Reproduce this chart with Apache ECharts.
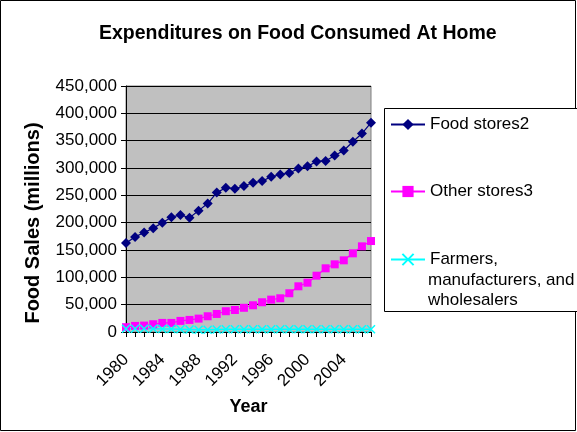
<!DOCTYPE html>
<html>
<head>
<meta charset="utf-8">
<script src="https://cdn.jsdelivr.net/npm/echarts@6/dist/echarts.min.js"></script>
<style>html,body{margin:0;padding:0;background:#fff}#c{width:577px;height:432px}</style>
</head>
<body>
<div id="c"></div>
<script>
const years = ['1980','1981','1982','1983','1984','1985','1986','1987','1988','1989','1990','1991','1992','1993','1994','1995','1996','1997','1998','1999','2000','2001','2002','2003','2004','2005','2006','2007'];
const foodStores = [163000,174000,182000,190000,200000,210000,214000,209000,222000,235000,255000,264000,262000,267000,273000,276000,284000,288000,291000,299000,303000,312000,313000,323000,332000,348000,363000,383000];
const otherStores = [8800,11100,11700,14200,16600,16600,20300,22100,24500,28800,33000,38000,40200,44300,48900,54400,59200,61700,70900,83600,90200,103000,116500,123800,131100,143900,156700,166400];
const farmers = [6000,6000,6000,6000,5500,5500,5000,4500,4000,4000,4500,5000,5000,5000,5000,5000,5000,5000,5000,5000,5000,5000,5000,5000,5000,5000,5000,5000];
const yTicks = [0,50000,100000,150000,200000,250000,300000,350000,400000,450000];
const seriesNames = ['Food stores2','Other stores3','Farmers, manufacturers, and wholesalers'];

const FONT = "'Liberation Sans', Arial, sans-serif";
const chart = echarts.init(document.getElementById('c'), null, {renderer:'canvas'});
const xPath = 'path://M0,0L10,10M10,0L0,10';
const legText = {fontFamily:FONT, fontSize:17, color:'#000'};
chart.setOption({
  animation: false,
  backgroundColor: '#fff',
  title: {
    text: 'Expenditures on Food Consumed At Home',
    left: 99, top: 24, padding: 0,
    textStyle: {fontFamily: FONT, fontSize: 19.5, fontWeight: 'bold', color: '#000'}
  },
  graphic: [
    {type:'rect', shape:{x:0.5,y:0.5,width:575,height:430}, style:{fill:'none', stroke:'#000', lineWidth:1}, z:-10},
    {type:'rect', shape:{x:384.5,y:108.5,width:200,height:203}, style:{fill:'#fff', stroke:'#000', lineWidth:1}, z:-5},
    {type:'text', left: 428, top: 270, style:{text:'manufacturers, and\nwholesalers', font: '17px ' + FONT, fill:'#000', lineHeight: 20}},
    {type:'text', x: 33, y: 223, rotation: Math.PI/2, style:{text:'Food Sales (millions)', font: 'bold 20px ' + FONT, fill:'#000', align:'center', verticalAlign:'middle'}}
  ],
  legend: [
    {data:[seriesNames[0]], orient:'vertical', left:390, top:116, itemWidth:34, itemHeight:14, padding:0, textStyle:legText},
    {data:[seriesNames[1]], orient:'vertical', left:390, top:183, itemWidth:34, itemHeight:14, padding:0, textStyle:legText},
    {data:[seriesNames[2]], orient:'vertical', left:390, top:251, itemWidth:34, itemHeight:14, padding:0, formatter: function(){return 'Farmers,';}, textStyle:legText}
  ],
  grid: {left:126, top:86, right:206, bottom:100, show:true, backgroundColor:'#C0C0C0', borderColor:'#808080', borderWidth:1},
  xAxis: {
    type:'category', data: years, boundaryGap:false,
    name:'Year', nameLocation:'middle', nameGap:66,
    nameTextStyle:{fontFamily:FONT, fontSize:18, fontWeight:'bold', color:'#000'},
    axisLine:{lineStyle:{color:'#000', width:1}},
    axisTick:{interval:0, length:5, lineStyle:{color:'#000'}},
    axisLabel:{interval:3, rotate:45, fontFamily:FONT, fontSize:17, color:'#000', margin:25},
    splitLine:{show:false}
  },
  yAxis: {
    type:'value', min:0, max:450000, interval:50000,
    axisLine:{show:true, lineStyle:{color:'#000', width:1}},
    axisTick:{show:true, length:5, lineStyle:{color:'#000'}},
    axisLabel:{fontFamily:FONT, fontSize:17, color:'#000', margin:9,
      formatter: function(v){ return yTicks.indexOf(v) >= 0 ? v.toLocaleString('en-US') : ''; }},
    splitLine:{show:true, lineStyle:{color:'#000', width:1}}
  },
  series: [
    {name:seriesNames[0], type:'line', data:foodStores, symbol:'diamond', symbolSize:10, showAllSymbol:true,
      lineStyle:{color:'#000080', width:1.2}, itemStyle:{color:'#000080'}},
    {name:seriesNames[1], type:'line', data:otherStores, symbol:'rect', symbolSize:8, showAllSymbol:true,
      lineStyle:{color:'#FF00FF', width:1.2}, itemStyle:{color:'#FF00FF'}},
    {name:seriesNames[2], type:'line', data:farmers, symbol:xPath, symbolSize:8, showAllSymbol:true,
      lineStyle:{color:'#00FFFF', width:1.5}, itemStyle:{color:'none', borderColor:'#00FFFF', borderWidth:1.5}}
  ]
});
</script>
</body>
</html>
